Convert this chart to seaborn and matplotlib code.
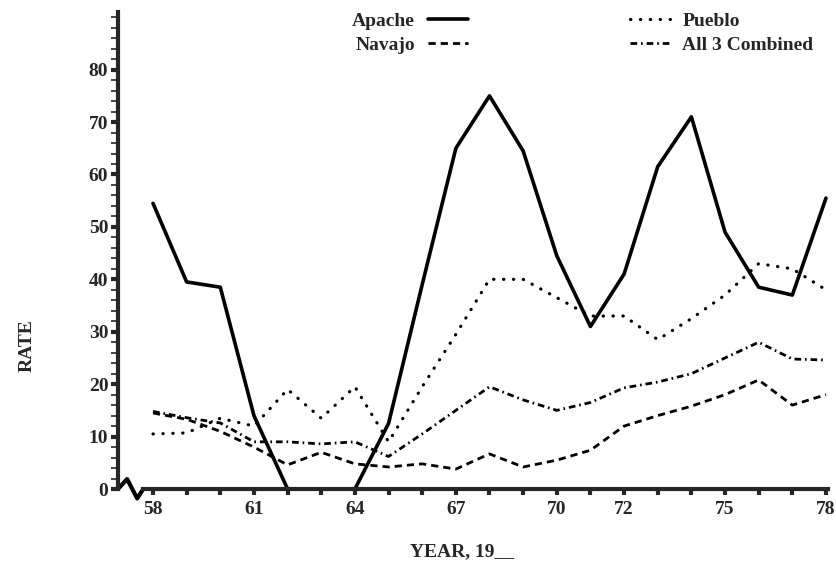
import numpy as np
import pandas as pd
import seaborn as sns
import matplotlib.pyplot as plt
from matplotlib.ticker import MultipleLocator

# rates, one value per year 1958-1978
years = list(range(58, 79))
apache = [54.5, 39.5, 38.5, 14, 0, 0, 0, 12.5, 39, 65, 75, 64.5, 44.5, 31, 41, 61.5, 71, 49, 38.5, 37, 55.5]
navajo = [14.5, 13.3, 11, 8, 4.6, 7, 4.8, 4.2, 4.8, 3.8, 6.7, 4.2, 5.5, 7.4, 12, 14, 15.8, 18, 20.8, 16, 18]
pueblo = [10.5, 10.7, 13.5, 12, 19, 13.5, 19.5, 9, 19.5, 29.5, 40, 40, 36.5, 33, 33, 28.5, 32.5, 37, 43, 42, 38]
combined = [14.8, 13.6, 12.6, 9, 9, 8.6, 9, 6.2, 10.5, 15, 19.5, 17, 15, 16.5, 19.3, 20.4, 22, 25, 28, 24.8, 24.6]
labelled_years = [58, 61, 64, 67, 70, 72, 75, 78]

df = pd.DataFrame({"year": years, "Apache": apache, "Navajo": navajo,
                   "Pueblo": pueblo, "All 3 Combined": combined})

sns.set_style("ticks")
plt.rcParams['font.family'] = ['Liberation Serif', 'DejaVu Serif']

fig = plt.figure(figsize=(8.37, 5.74), dpi=100)
ax = fig.add_axes([118/837, 85/574, 710/837, 477/574])

styles = {
    "Apache": dict(linestyle="-", linewidth=2.6),
    "Navajo": dict(linestyle=(0, (2.6, 1.8)), linewidth=2.0),
    "Pueblo": dict(linestyle=(0, (0.1, 3.0)), linewidth=2.3, dash_capstyle="round"),
    "All 3 Combined": dict(linestyle=(0, (2.4, 1.4, 0.6, 1.4)), linewidth=2.0),
}
for name, kw in styles.items():
    sns.lineplot(data=df, x="year", y=name, ax=ax, color="black", label=name, **kw)

ax.set_xlim(56.96, 78.06)
ax.set_ylim(0, 91)
ax.set_xticks(years)
ax.set_xticklabels([str(y) if y in labelled_years else "" for y in years])
ax.set_yticks(range(0, 81, 10))
ax.yaxis.set_minor_locator(MultipleLocator(2))
ax.tick_params(axis="x", length=4, width=3, pad=5, labelsize=14)
ax.tick_params(axis="y", which="major", length=5, width=3, pad=2, labelsize=14)
ax.tick_params(axis="y", which="minor", length=5, width=1.2)
for lab in ax.get_xticklabels() + ax.get_yticklabels():
    lab.set_fontweight("bold")

sns.despine(ax=ax)
ax.spines["left"].set_linewidth(3)
ax.spines["bottom"].set_linewidth(3)
ax.spines["bottom"].set_bounds(57.71, 78.06)
# axis break zigzag at the left end of the year axis
ax.plot([56.96, 57.23, 57.53, 57.71], [0, 1.9, -1.8, 0], color="black", lw=3, clip_on=False)

ax.set_xlabel("YEAR, 19__", fontsize=14, fontweight="bold")
ax.set_ylabel("RATE", fontsize=14, fontweight="bold")
ax.xaxis.set_label_coords(0.4845, -0.113)
ax.yaxis.set_label_coords(-0.1155, 0.30)

handles, labels = ax.get_legend_handles_labels()
ax.get_legend().remove()
h = dict(zip(labels, handles))
legend_font = dict(size=14, weight="bold")
fig.legend([h["Apache"], h["Navajo"]], ["Apache", "Navajo"], loc="upper left",
           bbox_to_anchor=(352/837, 1 - 12/574), frameon=False, markerfirst=False,
           prop=legend_font, handlelength=2.1, handletextpad=0.65, labelspacing=0.35,
           borderpad=0, borderaxespad=0)
fig.legend([h["Pueblo"], h["All 3 Combined"]], ["Pueblo", "All 3 Combined"], loc="upper left",
           bbox_to_anchor=(630/837, 1 - 12/574), frameon=False, markerfirst=True,
           prop=legend_font, handlelength=2.1, handletextpad=0.6, labelspacing=0.35,
           borderpad=0, borderaxespad=0)

fig.savefig("out.png", dpi=100)
